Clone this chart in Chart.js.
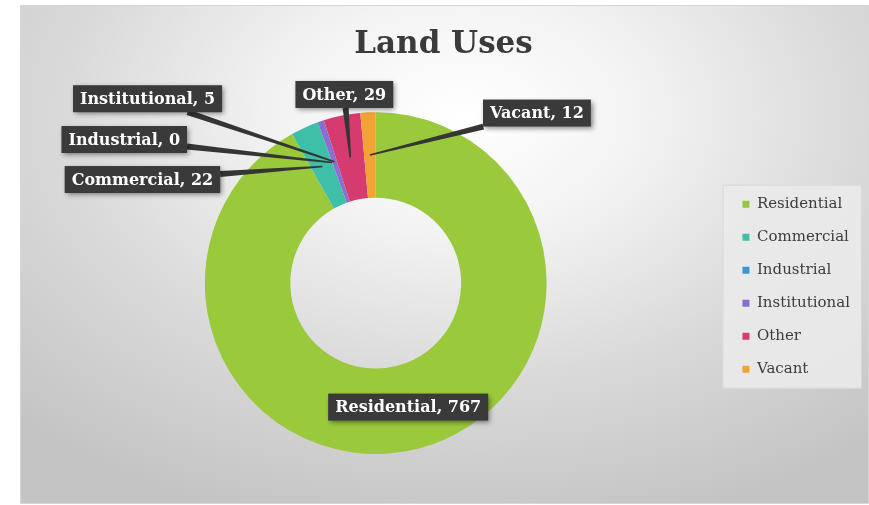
<!DOCTYPE html>
<html>
<head>
<meta charset="utf-8">
<script src="https://cdn.jsdelivr.net/npm/chart.js@4.4.0/dist/chart.umd.min.js"></script>
<style>
  html, body { margin: 0; padding: 0; background: #ffffff; }
  #wrap {
    position: absolute; left: 20px; top: 5px; width: 847px; height: 497px;
    border: 1px solid #d6d6d6;
    background: radial-gradient(ellipse 75% 85% at 52% 22%, #ffffff 0%, #f3f3f3 28%, #dadada 62%, #c4c4c4 100%);
  }
</style>
</head>
<body>
<div id="wrap"><canvas id="chart"></canvas></div>
<script>
// data
const categories = ['Residential', 'Commercial', 'Industrial', 'Institutional', 'Other', 'Vacant'];
const landUse = [767, 22, 0, 5, 29, 12];
const sliceColors = ['#9bc93c', '#3dbfa8', '#3b97d3', '#8b6fd0', '#d63b6f', '#f0a233'];

// where each callout sits, relative to the middle of its slice (px)
const calloutOffsets = [[0, 0], [-180, 13], [-208, -23], [-187, -63], [-6, -63], [167, -42]];

const serif = '"DejaVu Serif", serif';

const legendBoxPlugin = {
  id: 'legendBox',
  beforeDraw(chart) {
    const boxes = chart.legend && chart.legend.legendHitBoxes;
    if (!boxes || !boxes.length) return;
    const ctx = chart.ctx;
    const top = boxes[0].top - 12;
    const bottom = boxes[boxes.length - 1].top + boxes[boxes.length - 1].height + 12;
    const left = chart.legend.left - 2;
    const right = chart.legend.right + 2;
    ctx.save();
    ctx.fillStyle = 'rgba(234,234,234,0.9)';
    ctx.fillRect(left, top, right - left, bottom - top);
    ctx.strokeStyle = 'rgba(210,210,210,0.8)';
    ctx.strokeRect(left + 0.5, top + 0.5, right - left - 1, bottom - top - 1);
    ctx.restore();
  }
};

const calloutPlugin = {
  id: 'callouts',
  afterDatasetsDraw(chart) {
    const ctx = chart.ctx;
    const meta = chart.getDatasetMeta(0);
    ctx.save();
    ctx.font = 'bold 16px ' + serif;
    meta.data.forEach((arc, i) => {
      const p = arc.getProps(['x', 'y', 'startAngle', 'endAngle', 'innerRadius', 'outerRadius'], true);
      const mid = (p.startAngle + p.endAngle) / 2;
      const r = (p.innerRadius + p.outerRadius) / 2;
      const ax = p.x + Math.cos(mid) * r;
      const ay = p.y + Math.sin(mid) * r;
      const cx = ax + calloutOffsets[i][0];
      const cy = ay + calloutOffsets[i][1];
      const text = categories[i] + ', ' + landUse[i];
      const w = ctx.measureText(text).width + 14;
      const h = 27;

      if (calloutOffsets[i][0] !== 0 || calloutOffsets[i][1] !== 0) {
        // leader: clip centre->anchor at the box edge, then taper
        const dx = ax - cx, dy = ay - cy;
        const t = Math.min(Math.abs((w / 2) / dx) || 1e9, Math.abs((h / 2) / dy) || 1e9);
        const sx = cx + dx * t, sy = cy + dy * t;
        const len = Math.hypot(ax - sx, ay - sy);
        const nx = -(ay - sy) / len, ny = (ax - sx) / len;
        ctx.fillStyle = '#353535';
        ctx.beginPath();
        ctx.moveTo(sx + nx * 3, sy + ny * 3);
        ctx.lineTo(ax + nx * 0.8, ay + ny * 0.8);
        ctx.lineTo(ax - nx * 0.8, ay - ny * 0.8);
        ctx.lineTo(sx - nx * 3, sy - ny * 3);
        ctx.closePath();
        ctx.fill();
      }

      ctx.save();
      ctx.shadowColor = 'rgba(0,0,0,0.45)';
      ctx.shadowBlur = 5;
      ctx.shadowOffsetX = 2;
      ctx.shadowOffsetY = 2;
      ctx.fillStyle = '#3a3a3a';
      ctx.fillRect(cx - w / 2, cy - h / 2, w, h);
      ctx.restore();

      ctx.fillStyle = '#ffffff';
      ctx.textAlign = 'center';
      ctx.textBaseline = 'middle';
      ctx.fillText(text, cx, cy + 1);
    });
    ctx.restore();
  }
};

new Chart(document.getElementById('chart'), {
  type: 'doughnut',
  data: {
    labels: categories,
    datasets: [{
      data: landUse,
      backgroundColor: sliceColors,
      borderWidth: 0
    }]
  },
  options: {
    responsive: true,
    maintainAspectRatio: false,
    animation: false,
    cutout: '50%',
    layout: { padding: { left: 6, right: 8, top: 0, bottom: 49 } },
    plugins: {
      tooltip: { enabled: false },
      title: {
        display: true,
        text: 'Land Uses',
        color: '#3a3a3a',
        font: { family: serif, size: 31, weight: 'bold' },
        padding: { top: 20, bottom: 49 }
      },
      legend: {
        position: 'right',
        title: { display: true, text: '', padding: { top: 99, bottom: 0 } },
        labels: {
          boxWidth: 7,
          boxHeight: 7,
          padding: 18,
          color: '#3c3c3c',
          font: { family: serif, size: 15 }
        }
      }
    }
  },
  plugins: [legendBoxPlugin, calloutPlugin]
});
</script>
</body>
</html>
